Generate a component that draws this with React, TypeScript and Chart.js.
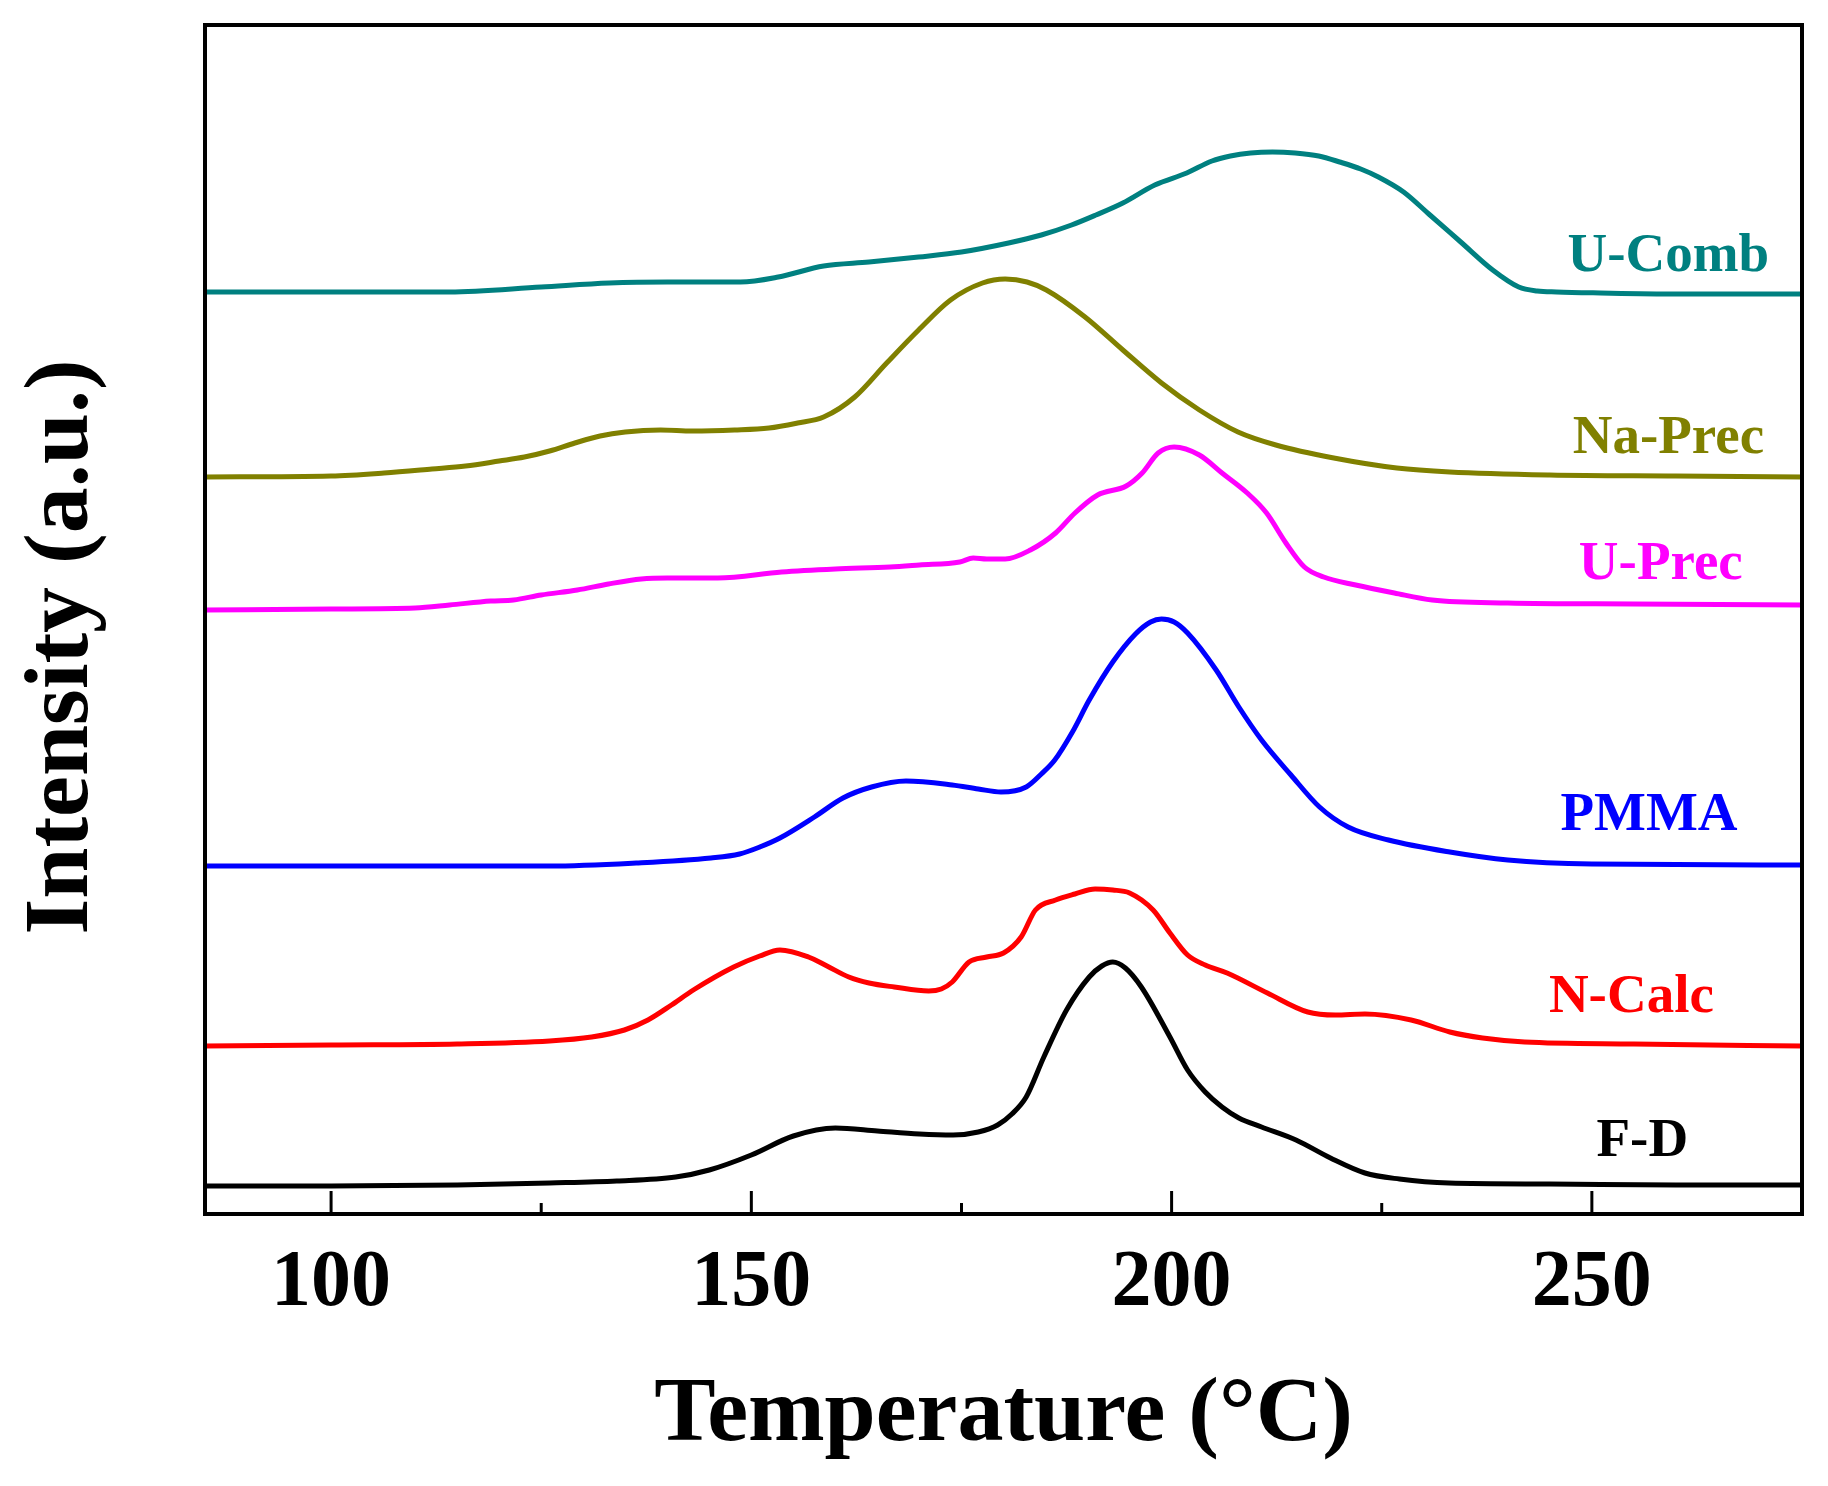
import React, { useEffect, useRef } from "react";
import { Chart, registerables } from "chart.js";

Chart.register(...registerables);

// series names and colours
const seriesNames = ["F-D", "N-Calc", "PMMA", "U-Prec", "Na-Prec", "U-Comb"];
const seriesColors = ["#000000", "#ff0000", "#0000ff", "#ff00ff", "#808000", "#008080"];

// F-D
const fdTemp = [85, 100, 115, 126, 134, 141, 145, 150, 155, 160, 165, 170, 174, 177, 179.3, 181, 182.7, 184.8, 187.5, 190.2, 191.7, 193, 194.5, 196.4, 199.8, 201.9, 204, 206, 208, 210.7, 214.8, 218.9, 223, 227.1, 233, 245, 260, 275];
const fdIntensity = [28, 28, 29, 31, 33, 37, 44, 59, 78, 86, 83, 80, 79, 82, 89, 100, 117, 157, 204, 237, 248, 252, 246, 227, 177, 144, 122, 107, 96, 87, 74, 56, 41, 35, 31, 30, 29, 29];

// N-Calc
const ncTemp = [85, 100, 115, 126, 131, 134.9, 137.7, 140.5, 143.1, 147.9, 151, 153.4, 156.8, 159, 161.6, 164, 167, 171.1, 172.6, 173.9, 175.9, 178, 180, 182.1, 183.8, 186.2, 188.5, 190.9, 193, 195, 197.8, 199.8, 201.9, 204, 206.6, 211.4, 216.2, 219.5, 223, 228.5, 233.1, 237, 242, 255, 275];
const ncIntensity = [168, 169, 170, 173, 177, 184, 194, 209, 224, 247, 258, 264, 257, 248, 237, 231, 227, 223, 225, 232, 252, 257, 261, 277, 304, 314, 320, 325, 324, 321, 304, 281, 259, 249, 241, 221, 202, 199, 200, 194, 182, 176, 172, 170, 168];

// PMMA
const pmTemp = [85, 100, 115, 126, 136.3, 145.2, 148.6, 151, 153.4, 157.5, 160.9, 164.3, 168.4, 173.9, 177, 179.7, 182.7, 184.5, 186.1, 188.2, 190.2, 193, 195.7, 197.5, 198.8, 200.3, 201.9, 205.3, 208, 210.7, 214.2, 217.6, 221, 225.8, 233.1, 240, 250, 275];
const pmIntensity = [348, 348, 348, 348, 351, 356, 360, 367, 376, 397, 416, 427, 433, 429, 425, 422, 427, 440, 454, 482, 514, 552, 580, 592, 595, 592, 581, 544, 507, 474, 439, 407, 387, 374, 362, 354, 350, 349];

// U-Prec
const upTemp = [85, 100, 110, 114.1, 119, 121.7, 125, 129.3, 133, 136.9, 140, 146, 153.6, 160, 166.5, 170, 174.8, 176.4, 178, 180.2, 183.2, 186.2, 188.5, 191.2, 194.6, 196.5, 198.4, 200.3, 203.3, 206, 209, 211.3, 213.6, 215.8, 218.1, 221.9, 226.5, 231, 240, 255, 275];
const upIntensity = [604, 605, 606, 609, 613, 614, 619, 624, 630, 635, 636, 636, 642, 645, 647, 649, 652, 656, 655, 655, 664, 681, 701, 719, 728, 741, 761, 767, 759, 741, 721, 701, 671, 647, 637, 629, 621, 614, 611, 610, 609];

// Na-Prec
const naTemp = [85, 100, 106.3, 112, 116, 120, 123, 126, 129, 132, 135, 139.2, 143, 148, 152.1, 155.5, 158.6, 162.3, 166.1, 169.9, 173.7, 177.5, 180.2, 182.8, 185.1, 189.7, 194.2, 198.8, 203.3, 207.9, 212.4, 219.3, 226.8, 233.1, 245, 260, 275];
const naIntensity = [737, 738, 741, 745, 748, 753, 757, 763, 771, 778, 782, 784, 783, 784, 786, 791, 797, 817, 851, 884, 914, 931, 935, 932, 924, 897, 864, 831, 804, 782, 769, 756, 746, 742, 739, 738, 737];

// U-Comb
const ucTemp = [85, 100, 114.1, 125, 133.1, 140, 148.7, 153.2, 158.6, 164, 169.9, 175, 180.6, 184.5, 188.1, 191, 194.2, 198, 201.8, 204.8, 207, 209.4, 212, 214.7, 217.5, 220, 222.5, 224.6, 227.6, 230.6, 234.4, 238.2, 241.3, 243.5, 245.8, 251, 260, 275];
const ucIntensity = [922, 922, 922, 927, 931, 932, 932, 937, 948, 952, 957, 962, 971, 979, 989, 999, 1011, 1029, 1041, 1053, 1058, 1061, 1062, 1061, 1058, 1052, 1045, 1037, 1022, 1000, 972, 944, 927, 923, 922, 921, 920, 920];

const seriesTemps = [fdTemp, ncTemp, pmTemp, upTemp, naTemp, ucTemp];
const seriesValues = [fdIntensity, ncIntensity, pmIntensity, upIntensity, naIntensity, ucIntensity];

// where each curve name sits (data coords, text centre / baseline)
const labelTemp = [256.0, 254.7, 256.8, 258.2, 259.1, 259.1];
const labelIntensity = [58, 202, 384, 635, 761, 943];

const xTitle = "Temperature (\u00b0C)";
const yTitle = "Intensity (a.u.)";
const FONT = "'Liberation Serif', 'Times New Roman', serif";

const decorPlugin = {
  id: "decor",
  afterDatasetsDraw(chart: any) {
    const { ctx, chartArea: a, scales } = chart;
    const xs = scales.x;
    const ys = scales.y;
    ctx.save();

    // inward tick marks
    ctx.strokeStyle = "#000";
    ctx.lineWidth = 3;
    xs.ticks.forEach((t: any) => {
      const px = xs.getPixelForValue(t.value);
      const len = t.value % 50 === 0 ? 23 : 11;
      ctx.beginPath();
      ctx.moveTo(px, a.bottom);
      ctx.lineTo(px, a.bottom - len);
      ctx.stroke();
    });

    // frame
    ctx.lineWidth = 4;
    ctx.strokeRect(a.left, a.top, a.right - a.left, a.bottom - a.top);

    // curve names
    ctx.font = `bold 55px ${FONT}`;
    ctx.textAlign = "center";
    ctx.textBaseline = "alphabetic";
    seriesNames.forEach((name, i) => {
      ctx.fillStyle = seriesColors[i];
      ctx.fillText(name, xs.getPixelForValue(labelTemp[i]), ys.getPixelForValue(labelIntensity[i]));
    });

    // y title
    ctx.fillStyle = "#000";
    ctx.font = `bold 92px ${FONT}`;
    ctx.translate(87, 647);
    ctx.rotate(-Math.PI / 2);
    ctx.fillText(yTitle, 0, 0);

    ctx.restore();
  },
};

const TprChart: React.FC = () => {
  const chartRef = useRef<HTMLCanvasElement | null>(null);

  useEffect(() => {
    if (!chartRef.current) return;
    const ctx = chartRef.current.getContext("2d");
    if (!ctx) return;

    const chart = new Chart(ctx, {
      type: "line",
      data: {
        datasets: seriesNames.map((name, i) => ({
          label: name,
          data: seriesTemps[i].map((t, j) => ({ x: t, y: seriesValues[i][j] })),
          borderColor: seriesColors[i],
          borderWidth: 5,
          pointRadius: 0,
          fill: false,
          cubicInterpolationMode: "monotone" as const,
        })),
      },
      options: {
        responsive: false,
        animation: false,
        devicePixelRatio: 1,
        layout: { padding: { top: 25, right: 26, left: 0, bottom: 0 } },
        plugins: {
          legend: { display: false },
          tooltip: { enabled: false },
        },
        scales: {
          x: {
            type: "linear",
            min: 85,
            max: 275,
            grid: { display: false },
            border: { display: false },
            ticks: {
              stepSize: 25,
              includeBounds: false,
              autoSkip: false,
              maxRotation: 0,
              padding: 14,
              color: "#000",
              font: { family: FONT, size: 80, weight: "bold" },
              callback: (v: any) => (Number(v) % 50 === 0 ? String(v) : ""),
            },
            title: {
              display: true,
              text: xTitle,
              color: "#000",
              font: { family: FONT, size: 92, weight: "bold" },
              padding: { top: 0, bottom: 15 },
            },
            afterFit: (scale: any) => {
              scale.height = 272;
            },
          },
          y: {
            type: "linear",
            min: 0,
            max: 1189,
            grid: { display: false },
            border: { display: false },
            ticks: { display: false },
            afterFit: (scale: any) => {
              scale.width = 205;
            },
          },
        },
      },
      plugins: [decorPlugin],
    });

    return () => {
      chart.destroy();
    };
  }, []);

  return <canvas ref={chartRef} width={1828} height={1486} />;
};

const App: React.FC = () => {
  return (
    <div style={{ position: "fixed", left: 0, top: 0, width: 1828, height: 1486, background: "#fff" }}>
      <TprChart />
    </div>
  );
};

export default App;
